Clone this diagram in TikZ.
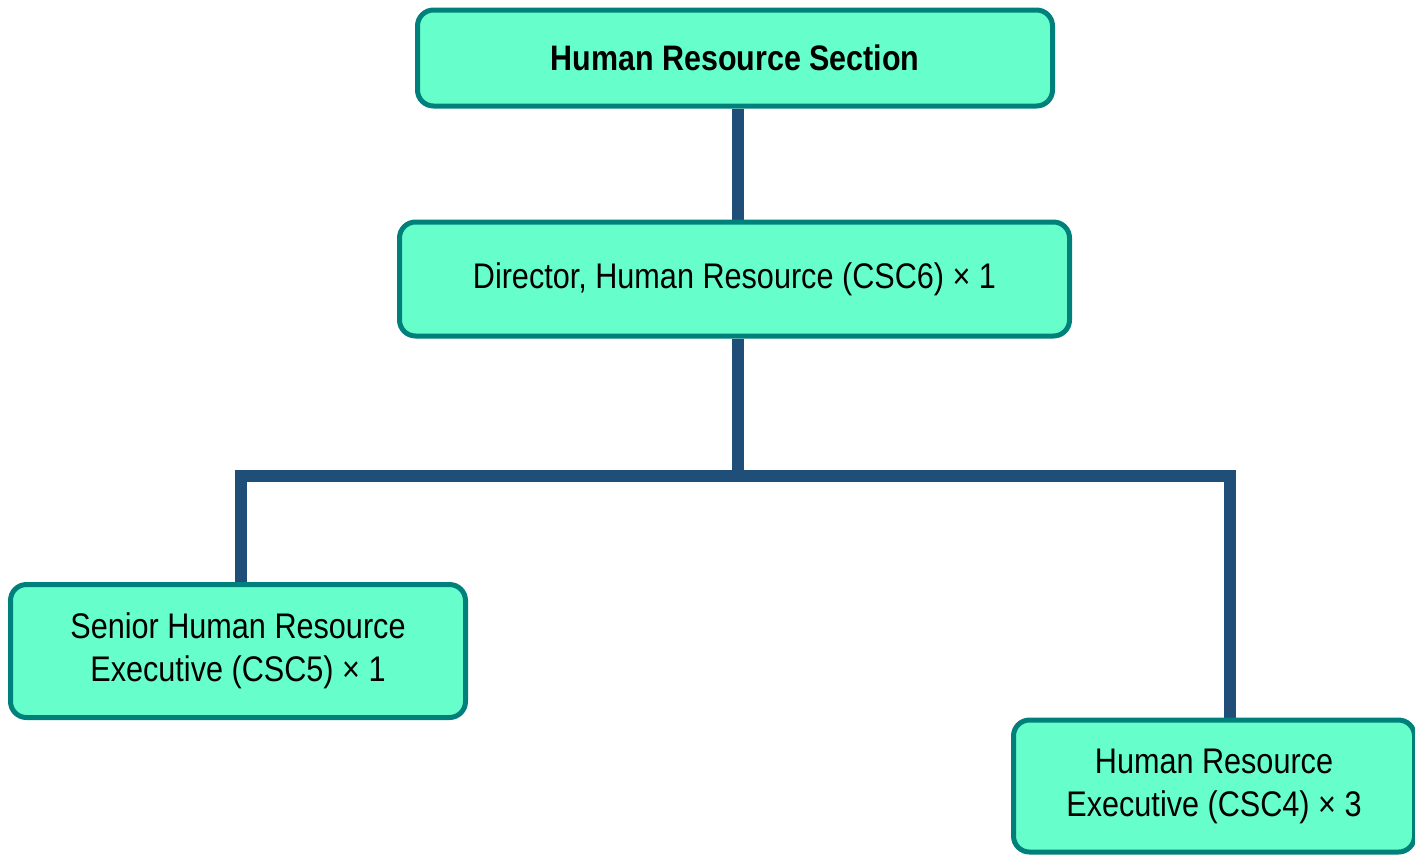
\documentclass[tikz,border=0pt]{standalone}
\usepackage{fontspec}
\setmainfont[FakeStretch=0.86]{Liberation Sans}
\usetikzlibrary{backgrounds}
\definecolor{boxfill}{HTML}{66FFCC}
\definecolor{boxline}{HTML}{00807A}
\definecolor{connline}{HTML}{1F4E79}
\begin{document}
\begin{tikzpicture}[x=1pt,y=-1pt,
  orgbox/.style={draw=boxline, fill=boxfill, line width=5pt, rounded corners=16pt,
    inner sep=0pt, align=center, font=\fontsize{35.6}{43}\selectfont},
  conn/.style={draw=connline, line width=12pt, line join=miter}]
\useasboundingbox (0,0) rectangle (1415,855);
\node[orgbox, minimum width=635pt, minimum height=96pt, font=\fontsize{35.4}{43}\selectfont\bfseries] (top) at (735,58) {Human Resource Section};
\node[orgbox, minimum width=670pt, minimum height=114pt] (dir) at (734.5,279) {Director, Human Resource (CSC6) × 1};
\node[orgbox, minimum width=455pt, minimum height=133pt] (sen) at (238,651) {Senior Human Resource\\Executive (CSC5) × 1};
\node[orgbox, minimum width=401pt, minimum height=132pt] (hre) at (1214,786) {Human Resource\\Executive (CSC4) × 3};
\coordinate (j) at (738,476);
\coordinate (jl) at (241,476);
\coordinate (jr) at (1230,476);
\begin{pgfonlayer}{background}
\draw[conn] (top.south -| j) -- (dir.north -| j);
\draw[conn] (dir.south -| j) -- (j);
\draw[conn] (sen.north -| jl) -- (jl) -- (jr) -- (hre.north -| jr);
\end{pgfonlayer}
\end{tikzpicture}
\end{document}
